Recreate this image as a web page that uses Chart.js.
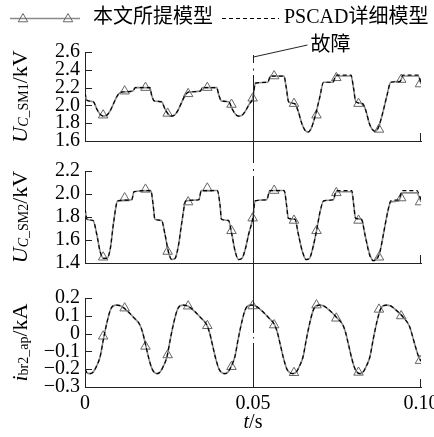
<!DOCTYPE html>
<html>
<head>
<meta charset="utf-8">
<script src="https://cdn.jsdelivr.net/npm/chart.js@4.4.1/dist/chart.umd.min.js"></script>
<style>
    html, body { margin: 0; padding: 0; background: #fff; }
    #wrap { position: relative; width: 434px; height: 437px; overflow: hidden; }
    #wrap canvas { position: absolute; left: 0; }
</style>
</head>
<body>
<div id="wrap">
    <canvas id="sm1Chart" width="434" height="112" style="top:40px"></canvas>
    <canvas id="sm2Chart" width="434" height="112" style="top:160px"></canvas>
    <canvas id="ibrChart" width="434" height="152" style="top:285px"></canvas>
    <canvas id="overlay" width="434" height="437" style="top:0"></canvas>
</div>
<script>
// time in ms
const tSm1 = [0, 0.5, 2.5, 3.5, 4.5, 5.5, 6.5, 7.5, 8.5, 9.5, 10.8, 14.2, 15.0, 19.3, 19.8, 20.6, 22.8, 23.8, 24.8, 25.6,
    26.6, 27.6, 28.6, 29.6, 30.8, 34.3, 35.0, 39.2, 39.8, 40.6, 42.8, 43.8, 44.8, 45.8, 46.8, 47.8, 48.8, 50.0, 50.7, 54.4,
    55.2, 59.2, 59.9, 60.6, 62.4, 63.4, 64.5, 65.5, 66.3, 67.3, 68.5, 69.8, 71.0, 73.8, 74.7, 79.2, 79.9, 80.6, 82.6, 83.6,
    84.6, 85.5, 86.3, 87.3, 88.5, 89.8, 91.0, 93.8, 94.6, 99.2, 100];
const sm1Model = [2.14, 2.06, 2.04, 1.96, 1.90, 1.88, 1.89, 1.94, 2.02, 2.10, 2.15, 2.16, 2.20, 2.20, 2.12, 2.05, 2.04, 1.96, 1.90, 1.88,
    1.89, 1.94, 2.02, 2.10, 2.15, 2.16, 2.20, 2.20, 2.12, 2.05, 2.04, 1.96, 1.90, 1.88, 1.89, 1.94, 2.01, 2.09, 2.25, 2.26,
    2.33, 2.33, 2.20, 2.04, 2.02, 1.94, 1.80, 1.72, 1.70, 1.74, 1.88, 2.08, 2.26, 2.26, 2.33, 2.33, 2.20, 2.04, 2.02, 1.94,
    1.80, 1.73, 1.71, 1.75, 1.90, 2.10, 2.26, 2.27, 2.33, 2.33, 2.24];
const sm1Pscad = [2.14, 2.06, 2.04, 1.96, 1.90, 1.88, 1.89, 1.94, 2.02, 2.10, 2.15, 2.16, 2.20, 2.20, 2.12, 2.05, 2.04, 1.96, 1.90, 1.88,
    1.89, 1.94, 2.02, 2.10, 2.15, 2.16, 2.20, 2.20, 2.12, 2.05, 2.04, 1.96, 1.90, 1.88, 1.89, 1.94, 2.01, 2.09, 2.25, 2.26,
    2.33, 2.33, 2.20, 2.04, 2.02, 1.94, 1.80, 1.72, 1.70, 1.74, 1.88, 2.08, 2.26, 2.26, 2.34, 2.34, 2.20, 2.04, 2.02, 1.94,
    1.80, 1.73, 1.71, 1.75, 1.90, 2.10, 2.26, 2.27, 2.34, 2.34, 2.24];

const tSm2 = [0, 0.6, 2.4, 3.5, 4.5, 5.5, 6.5, 7.5, 8.5, 9.7, 13.9, 14.6, 19.6, 20.3, 20.8, 22.8, 23.8, 24.8, 25.8, 26.8,
    27.8, 28.8, 30.0, 33.9, 34.6, 39.4, 40.2, 40.6, 42.7, 43.7, 44.7, 45.7, 46.7, 47.7, 48.7, 50.0, 50.6, 54.1, 55.0, 59.3,
    60.0, 60.5, 62.5, 63.5, 64.7, 65.8, 66.8, 67.8, 68.9, 70.0, 71.0, 73.9, 74.8, 79.4, 80.0, 80.5, 82.3, 83.3, 84.7, 85.8,
    86.8, 87.8, 89.0, 90.2, 91.0, 93.3, 94.5, 98.8, 99.5, 100];
const sm2Model = [1.87, 1.78, 1.77, 1.65, 1.50, 1.44, 1.44, 1.52, 1.75, 1.94, 1.95, 2.02, 2.03, 1.90, 1.78, 1.77, 1.65, 1.50, 1.43, 1.44,
    1.55, 1.75, 1.94, 1.95, 2.03, 2.03, 1.90, 1.78, 1.77, 1.65, 1.50, 1.43, 1.44, 1.52, 1.65, 1.80, 1.94, 1.95, 2.03, 2.03,
    1.90, 1.79, 1.78, 1.65, 1.50, 1.43, 1.44, 1.53, 1.68, 1.85, 1.94, 1.95, 2.02, 2.02, 1.90, 1.79, 1.78, 1.65, 1.48, 1.42,
    1.44, 1.50, 1.68, 1.86, 1.93, 1.94, 2.01, 2.01, 1.97, 1.93];
const sm2Pscad = [1.87, 1.78, 1.77, 1.65, 1.50, 1.44, 1.44, 1.52, 1.75, 1.94, 1.95, 2.02, 2.03, 1.90, 1.78, 1.77, 1.65, 1.50, 1.43, 1.44,
    1.55, 1.75, 1.94, 1.95, 2.03, 2.03, 1.90, 1.78, 1.77, 1.65, 1.50, 1.43, 1.44, 1.52, 1.65, 1.80, 1.94, 1.95, 2.03, 2.03,
    1.90, 1.79, 1.78, 1.65, 1.50, 1.43, 1.44, 1.53, 1.68, 1.85, 1.94, 1.95, 2.03, 2.03, 1.90, 1.79, 1.78, 1.65, 1.47, 1.42,
    1.43, 1.50, 1.68, 1.86, 1.94, 1.95, 2.03, 2.03, 1.99, 1.95];

const tIbr = [0, 0.5, 1.5, 2.5, 3.5, 4.5, 5.5, 6.5, 7.5, 8.3, 9.5, 10.5, 11.5, 13.0, 14.5, 16.3, 17.1, 18.0, 19.0, 20.0,
    21.4, 22.4, 23.4, 24.4, 25.4, 26.4, 27.4, 28.2, 29.4, 30.4, 31.4, 32.9, 34.4, 36.2, 37.0, 37.9, 38.9, 39.9,
    41.6, 42.6, 43.6, 44.6, 45.6, 46.6, 47.6, 48.4, 49.6, 50.6, 51.6, 53.1, 54.6, 56.4, 57.2, 58.1, 59.1, 60.1,
    61.9, 62.9, 63.9, 64.9, 65.9, 66.9, 67.9, 68.7, 69.9, 70.9, 71.9, 73.4, 74.9, 76.7, 77.5, 78.4, 79.4, 80.4,
    81.8, 82.8, 83.8, 84.8, 85.8, 86.8, 87.8, 88.6, 89.8, 90.8, 91.8, 93.3, 94.8, 96.6, 97.4, 98.3, 99.3, 100];
const ibrModel = [-0.20, -0.218, -0.225, -0.215, -0.18, -0.13, -0.03, 0.06, 0.13, 0.155, 0.16, 0.157, 0.145, 0.12, 0.09, 0.05, 0.01, -0.06, -0.14, -0.20,
    -0.225, -0.215, -0.18, -0.13, -0.03, 0.06, 0.13, 0.155, 0.16, 0.157, 0.145, 0.12, 0.09, 0.05, 0.01, -0.06, -0.14, -0.20,
    -0.225, -0.215, -0.18, -0.13, -0.03, 0.06, 0.13, 0.155, 0.16, 0.157, 0.145, 0.12, 0.09, 0.05, 0.01, -0.06, -0.14, -0.20,
    -0.225, -0.215, -0.18, -0.13, -0.03, 0.06, 0.13, 0.155, 0.16, 0.157, 0.145, 0.12, 0.09, 0.05, 0.01, -0.06, -0.14, -0.20,
    -0.225, -0.215, -0.18, -0.13, -0.03, 0.06, 0.13, 0.155, 0.16, 0.157, 0.145, 0.12, 0.09, 0.04, -0.01, -0.07, -0.13, -0.155];
const ibrPscad = [-0.20, -0.218, -0.225, -0.215, -0.18, -0.13, -0.03, 0.06, 0.13, 0.155, 0.16, 0.157, 0.145, 0.12, 0.09, 0.05, 0.01, -0.06, -0.14, -0.20,
    -0.225, -0.215, -0.18, -0.13, -0.03, 0.06, 0.13, 0.155, 0.16, 0.157, 0.145, 0.12, 0.09, 0.05, 0.01, -0.06, -0.14, -0.20,
    -0.225, -0.215, -0.18, -0.13, -0.03, 0.06, 0.13, 0.155, 0.16, 0.157, 0.145, 0.12, 0.09, 0.05, 0.01, -0.06, -0.14, -0.20,
    -0.225, -0.215, -0.18, -0.13, -0.03, 0.06, 0.13, 0.155, 0.16, 0.157, 0.145, 0.12, 0.09, 0.05, 0.01, -0.06, -0.14, -0.20,
    -0.225, -0.215, -0.18, -0.13, -0.03, 0.06, 0.13, 0.155, 0.16, 0.157, 0.145, 0.12, 0.09, 0.04, -0.01, -0.07, -0.13, -0.155];

// triangle markers on the proposed-model curve
const markerT = [5.4, 11.8, 18.0, 24.6, 30.7, 36.4, 43.6, 49.9, 56.3, 62.2, 68.9, 74.8, 81.4, 87.5, 94.1, 99.7];
const sm1Marks = [1.89, 2.16, 2.20, 1.91, 2.13, 2.20, 2.01, 2.08, 2.33, 2.02, 1.89, 2.31, 2.02, 1.73, 2.29, 2.24];
const sm2Marks = [1.45, 1.965, 2.04, 1.50, 1.93, 2.05, 1.68, 1.79, 2.03, 1.77, 1.68, 2.01, 1.77, 1.45, 1.965, 1.93];
const ibrMarks = [-0.015, 0.143, -0.072, -0.12, 0.154, 0.044, -0.186, 0.155, 0.048, -0.22, 0.16, 0.086, -0.218, 0.136, 0.099, -0.152];

const xTicks = [0, 0.05, 0.1];
const faultTime = 0.05;

const SERIF = '"Liberation Serif", "Times New Roman", serif';
const MIXED = '"Liberation Serif", "Noto Sans CJK SC", serif';
const AXIS = '#222';
const GREY = '#8a8a8a';
const MARK = '#666';

function toXY(t, v) {
    return t.map((ms, i) => ({ x: ms / 1000, y: v[i] }));
}

function drawTitle(ctx, parts, x, cy) {
    ctx.save();
    ctx.translate(x, cy);
    ctx.rotate(-Math.PI / 2);
    ctx.fillStyle = '#000';
    ctx.textBaseline = 'alphabetic';
    const fontOf = p => (p.it ? 'italic ' : '') + (p.sub ? 14 : 22) + 'px ' + SERIF;
    let total = 0;
    parts.forEach(p => { ctx.font = fontOf(p); total += ctx.measureText(p.t).width; });
    let cx = -total / 2;
    parts.forEach(p => {
        ctx.font = fontOf(p);
        ctx.fillText(p.t, cx, p.sub ? 1 : 0);
        cx += ctx.measureText(p.t).width;
    });
    ctx.restore();
}

// inward ticks, right end tick and y-axis title
const panelDecor = {
    id: 'panelDecor',
    afterDraw(chart, args, opts) {
        const { ctx, chartArea: a } = chart;
        const y = chart.scales.y;
        ctx.save();
        ctx.strokeStyle = AXIS;
        ctx.lineWidth = 1;
        ctx.beginPath();
        y.ticks.forEach(t => {
            const py = Math.round(y.getPixelForValue(t.value)) + 0.5;
            ctx.moveTo(a.left, py);
            ctx.lineTo(a.left + 7, py);
        });
        const rx = Math.round(a.right) - 0.5;
        ctx.moveTo(rx, a.bottom);
        ctx.lineTo(rx, a.bottom - 8);
        ctx.stroke();
        ctx.restore();
        drawTitle(ctx, opts.title, 27, (a.top + a.bottom) / 2);
    }
};

function yFormat(v) {
    if (Math.abs(v) < 1e-9) return '0';
    return (v < 0 ? '\u2212' : '') + Math.abs(v).toFixed(1);
}

function makePanel(id, cfg) {
    return new Chart(document.getElementById(id), {
        type: 'line',
        data: {
            datasets: [
                {
                    data: toXY(cfg.t, cfg.pscad),
                    borderColor: '#000',
                    borderWidth: 1.2,
                    borderDash: [4, 3],
                    pointRadius: 0,
                    cubicInterpolationMode: 'monotone',
                    order: 0
                },
                {
                    data: toXY(markerT, cfg.marks),
                    showLine: false,
                    pointStyle: 'triangle',
                    pointRadius: 5.5,
                    pointBorderColor: MARK,
                    pointBorderWidth: 1,
                    pointBackgroundColor: 'rgba(255,255,255,0)',
                    order: 1
                },
                {
                    data: toXY(cfg.t, cfg.model),
                    borderColor: GREY,
                    borderWidth: 1.6,
                    pointRadius: 0,
                    cubicInterpolationMode: 'monotone',
                    order: 2
                }
            ]
        },
        options: {
            responsive: false,
            animation: false,
            events: [],
            layout: { padding: { left: 0, right: 13, top: cfg.padTop, bottom: cfg.padBottom } },
            plugins: {
                legend: { display: false },
                tooltip: { enabled: false },
                panelDecor: { title: cfg.title }
            },
            scales: {
                x: {
                    type: 'linear',
                    min: 0,
                    max: 0.1,
                    afterFit: s => { s.height = cfg.xHeight; s.paddingLeft = 0; s.paddingRight = 0; },
                    afterBuildTicks: s => { s.ticks = xTicks.map(v => ({ value: v })); },
                    grid: { drawOnChartArea: false, drawTicks: false },
                    border: { color: AXIS, width: 1 },
                    ticks: {
                        display: cfg.showX,
                        padding: 5,
                        maxRotation: 0,
                        autoSkip: false,
                        color: '#000',
                        font: { family: SERIF, size: 20 },
                        callback: v => v === 0 ? '0' : v.toFixed(2)
                    }
                },
                y: {
                    min: cfg.min,
                    max: cfg.max,
                    afterFit: s => { s.width = 85; s.paddingTop = 0; s.paddingBottom = 0; },
                    grid: { drawOnChartArea: false, drawTicks: false },
                    border: { color: AXIS, width: 1 },
                    ticks: {
                        stepSize: cfg.step,
                        autoSkip: false,
                        padding: 5,
                        color: '#000',
                        font: { family: SERIF, size: 20, lineHeight: 1 },
                        callback: yFormat
                    }
                }
            }
        },
        plugins: [panelDecor]
    });
}

const sm1 = makePanel('sm1Chart', {
    t: tSm1, model: sm1Model, pscad: sm1Pscad, marks: sm1Marks,
    min: 1.6, max: 2.6, step: 0.2, padTop: 12, padBottom: 11, xHeight: 0, showX: false,
    title: [{ t: 'U', it: true }, { t: 'C', it: true, sub: true }, { t: '_SM1', sub: true }, { t: '/kV' }]
});
const sm2 = makePanel('sm2Chart', {
    t: tSm2, model: sm2Model, pscad: sm2Pscad, marks: sm2Marks,
    min: 1.4, max: 2.2, step: 0.2, padTop: 11, padBottom: 9, xHeight: 0, showX: false,
    title: [{ t: 'U', it: true }, { t: 'C', it: true, sub: true }, { t: '_SM2', sub: true }, { t: '/kV' }]
});
const ibr = makePanel('ibrChart', {
    t: tIbr, model: ibrModel, pscad: ibrPscad, marks: ibrMarks,
    min: -0.3, max: 0.2, step: 0.1, padTop: 13, padBottom: 0, xHeight: 50, showX: true,
    title: [{ t: 'i', it: true }, { t: 'br2_ap', sub: true }, { t: '/kA' }]
});

// legend, fault line and annotations on top
function drawOverlay() {
    const ctx = document.getElementById('overlay').getContext('2d');

    function tri(x, y, r) {
        ctx.beginPath();
        ctx.moveTo(x, y - r);
        ctx.lineTo(x + r * 0.866, y + r / 2);
        ctx.lineTo(x - r * 0.866, y + r / 2);
        ctx.closePath();
        ctx.stroke();
    }

    // legend
    ctx.lineWidth = 1.4;
    ctx.strokeStyle = GREY;
    ctx.beginPath();
    ctx.moveTo(10, 18.5);
    ctx.lineTo(80, 18.5);
    ctx.stroke();
    ctx.lineWidth = 1;
    ctx.strokeStyle = MARK;
    tri(23, 19, 5.5);
    tri(68, 19, 5.5);

    ctx.fillStyle = '#000';
    ctx.textBaseline = 'middle';
    ctx.font = '20px ' + MIXED;
    ctx.fillText('本文所提模型', 93, 18);

    ctx.strokeStyle = '#000';
    ctx.lineWidth = 1.2;
    ctx.setLineDash([4, 3]);
    ctx.beginPath();
    ctx.moveTo(222, 18.5);
    ctx.lineTo(279, 18.5);
    ctx.stroke();
    ctx.setLineDash([]);
    ctx.fillText('PSCAD详细模型', 284, 18);

    // fault line at t = 0.05 s
    const fx = Math.round(sm1.scales.x.getPixelForValue(faultTime)) + 0.5;
    const segs = [[55, 63], [68.5, 70.5], [75, 163], [169, 171], [176, 333], [337, 338.5], [343, 388]];
    ctx.strokeStyle = AXIS;
    ctx.lineWidth = 1;
    ctx.beginPath();
    segs.forEach(s => { ctx.moveTo(fx, s[0]); ctx.lineTo(fx, s[1]); });
    ctx.moveTo(fx, 57);
    ctx.lineTo(fx + 54, 45);
    ctx.stroke();

    ctx.font = '20px ' + MIXED;
    ctx.fillText('故障', fx + 57, 46);

    // x axis title
    const tx = ibr.scales.x.getPixelForValue(faultTime);
    ctx.font = 'italic 20px ' + SERIF;
    const w1 = ctx.measureText('t').width;
    ctx.font = '20px ' + SERIF;
    const w2 = ctx.measureText('/s').width;
    const sx = tx - (w1 + w2) / 2;
    ctx.font = 'italic 20px ' + SERIF;
    ctx.fillText('t', sx, 423);
    ctx.font = '20px ' + SERIF;
    ctx.fillText('/s', sx + w1, 423);
}

drawOverlay();
</script>
</body>
</html>
